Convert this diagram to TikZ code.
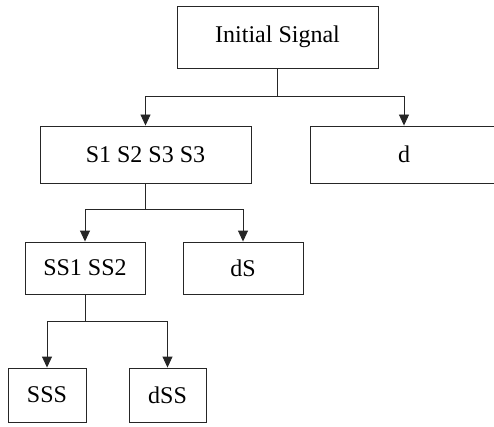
\documentclass[tikz,border=0pt]{standalone}
\usepackage{fontspec}
\setmainfont{Liberation Serif}
\usetikzlibrary{arrows.meta}
\begin{document}
\begin{tikzpicture}[x=1pt,y=1pt,
  box/.style={draw=black!85, line width=0.9pt, inner sep=0pt, font=\fontsize{24}{28}\selectfont},
  conn/.style={draw=black!85, line width=0.9pt},
  arr/.style={conn, -{Triangle[length=11pt,width=10pt]}}]
\useasboundingbox (0,0) rectangle (494,426);
\node[box, minimum width=201pt, minimum height=62pt] (init) at (277.5,389) {Initial Signal};
\node[box, minimum width=211pt, minimum height=57pt] (s1) at (145.5,271.5) {S1 S2 S3 S3};
\node[box, minimum width=188pt, minimum height=57pt] (d) at (404,271.5) {d};
\node[box, minimum width=120pt, minimum height=52pt] (ss1) at (85,158) {SS1 SS2};
\node[box, minimum width=120pt, minimum height=52pt] (ds) at (243,158) {dS};
\node[box, minimum width=78pt, minimum height=54pt] (sss) at (47,31) {SSS};
\node[box, minimum width=77pt, minimum height=54pt] (dss) at (167.5,31) {dSS};
\coordinate (j1) at (277.5,330);
\coordinate (j2) at (145.5,217);
\coordinate (j3) at (85,105);
\draw[conn] (init.south) -- (j1);
\draw[arr] (j1) -| (s1.north);
\draw[arr] (j1) -| (d.north);
\draw[conn] (s1.south) -- (j2);
\draw[arr] (j2) -| (ss1.north);
\draw[arr] (j2) -| (ds.north);
\draw[conn] (ss1.south) -- (j3);
\draw[arr] (j3) -| (sss.north);
\draw[arr] (j3) -| (dss.north);
\end{tikzpicture}
\end{document}
